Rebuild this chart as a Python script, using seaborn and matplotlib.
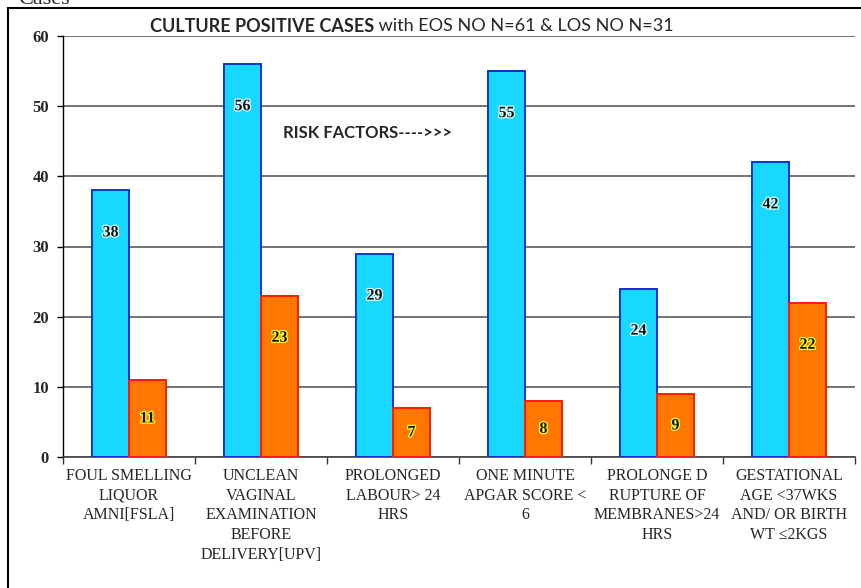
import matplotlib
matplotlib.use("Agg")
import matplotlib.pyplot as plt
import matplotlib.patheffects as pe
from matplotlib.patches import Rectangle
import seaborn as sns
import pandas as pd
import numpy as np

categories = [
    "FOUL SMELLING\nLIQUOR\nAMNI[FSLA]",
    "UNCLEAN\nVAGINAL\nEXAMINATION\nBEFORE\nDELIVERY[UPV]",
    "PROLONGED\nLABOUR> 24\nHRS",
    "ONE MINUTE\nAPGAR SCORE <\n6",
    "PROLONGE D\nRUPTURE OF\nMEMBRANES>24\nHRS",
    "GESTATIONAL\nAGE <37WKS\nAND/ OR BIRTH\nWT \u22642KGS",
]
series_names = ["EOS", "LOS"]
eos_values = [38, 56, 29, 55, 24, 42]
los_values = [11, 23, 7, 8, 9, 22]
y_ticks = [0, 10, 20, 30, 40, 50, 60]

df = pd.DataFrame({
    "category": categories * 2,
    "series": [series_names[0]] * len(categories) + [series_names[1]] * len(categories),
    "value": eos_values + los_values,
})

sns.set_theme(style="white")
plt.rcParams["font.family"] = ["Liberation Serif", "DejaVu Serif"]

fig = plt.figure(figsize=(8.61, 5.88), dpi=100)
ax = fig.add_axes([63 / 861, 1 - 457 / 588, (855 - 63) / 861, (457 - 36) / 588])

fills = {"EOS": "#19D8FF", "LOS": "#FF7700"}
edges = {"EOS": "#1030D0", "LOS": "#FF1A00"}
glow = {"EOS": "#E0FFFF", "LOS": "#FFFF30"}

sns.barplot(data=df, x="category", y="value", hue="series", palette=fills,
            width=0.56, ax=ax, legend=False, saturation=1, errorbar=None)

for cont, name in zip(ax.containers, series_names):
    for bar in cont:
        bar.set_edgecolor(edges[name])
        bar.set_linewidth(1.4)
        bar.set_zorder(3)
        v = bar.get_height()
        ypos = v - min(6.0, v / 2.0)
        ax.text(bar.get_x() + bar.get_width() / 2, ypos, f"{int(v)}",
                ha="center", va="center", fontsize=11.5, fontweight="bold", color="#111111", zorder=5,
                path_effects=[pe.withStroke(linewidth=1.8, foreground=glow[name])])

ax.set_ylim(0, 60)
ax.set_xlim(-0.5, len(categories) - 0.5)
ax.set_yticks(y_ticks)
ax.set_yticklabels([str(t) for t in y_ticks], fontsize=12, fontweight="bold")
ax.yaxis.grid(True, color="#5a5a5a", linewidth=1.2, zorder=0)
ax.set_axisbelow(True)
ax.tick_params(axis="y", which="major", direction="out", length=4, width=1, color="black", pad=6, left=True)
ax.tick_params(axis="x", which="major", length=0, pad=8, labelsize=11.5)
ax.set_xticks(np.arange(-0.5, len(categories), 1.0), minor=True)
ax.tick_params(axis="x", which="minor", direction="out", length=5, width=1, color="#333333", bottom=True)
for lab in ax.get_xticklabels():
    lab.set_linespacing(1.3)

ax.set_xlabel("")
ax.set_ylabel("")
for s in ["top", "right"]:
    ax.spines[s].set_visible(False)
ax.spines["left"].set_color("black")
ax.spines["left"].set_linewidth(1.0)
ax.spines["bottom"].set_color("#444444")
ax.spines["bottom"].set_linewidth(1.2)

# title in two weights
t1 = fig.text(150 / 861, 1 - 26 / 588, "CULTURE POSITIVE CASES", family=["Lato", "DejaVu Sans"],
              fontweight="bold", fontsize=13, ha="left", va="center")
fig.canvas.draw()
ax.annotate(" with EOS NO N=61 & LOS NO N=31", xy=(1, 0.5), xycoords=t1, ha="left", va="center",
            family=["Lato", "DejaVu Sans"], fontsize=13)

ax.text((283 - 63) / 792, (457 - 133) / 421, "RISK FACTORS---->>>", transform=ax.transAxes,
        family=["Lato", "DejaVu Sans"], fontweight="bold", fontsize=12, ha="left", va="center")

# outer frame and cut-off heading
fig.patches.append(Rectangle((8 / 861, -0.1), 1.0, 1 - 8 / 588 + 0.1, transform=fig.transFigure,
                             fill=False, edgecolor="black", linewidth=1.5))
fig.text(18 / 861, 1 - 4 / 588, "Cases", fontsize=16, ha="left", va="baseline")

fig.savefig("out.png", dpi=100)
